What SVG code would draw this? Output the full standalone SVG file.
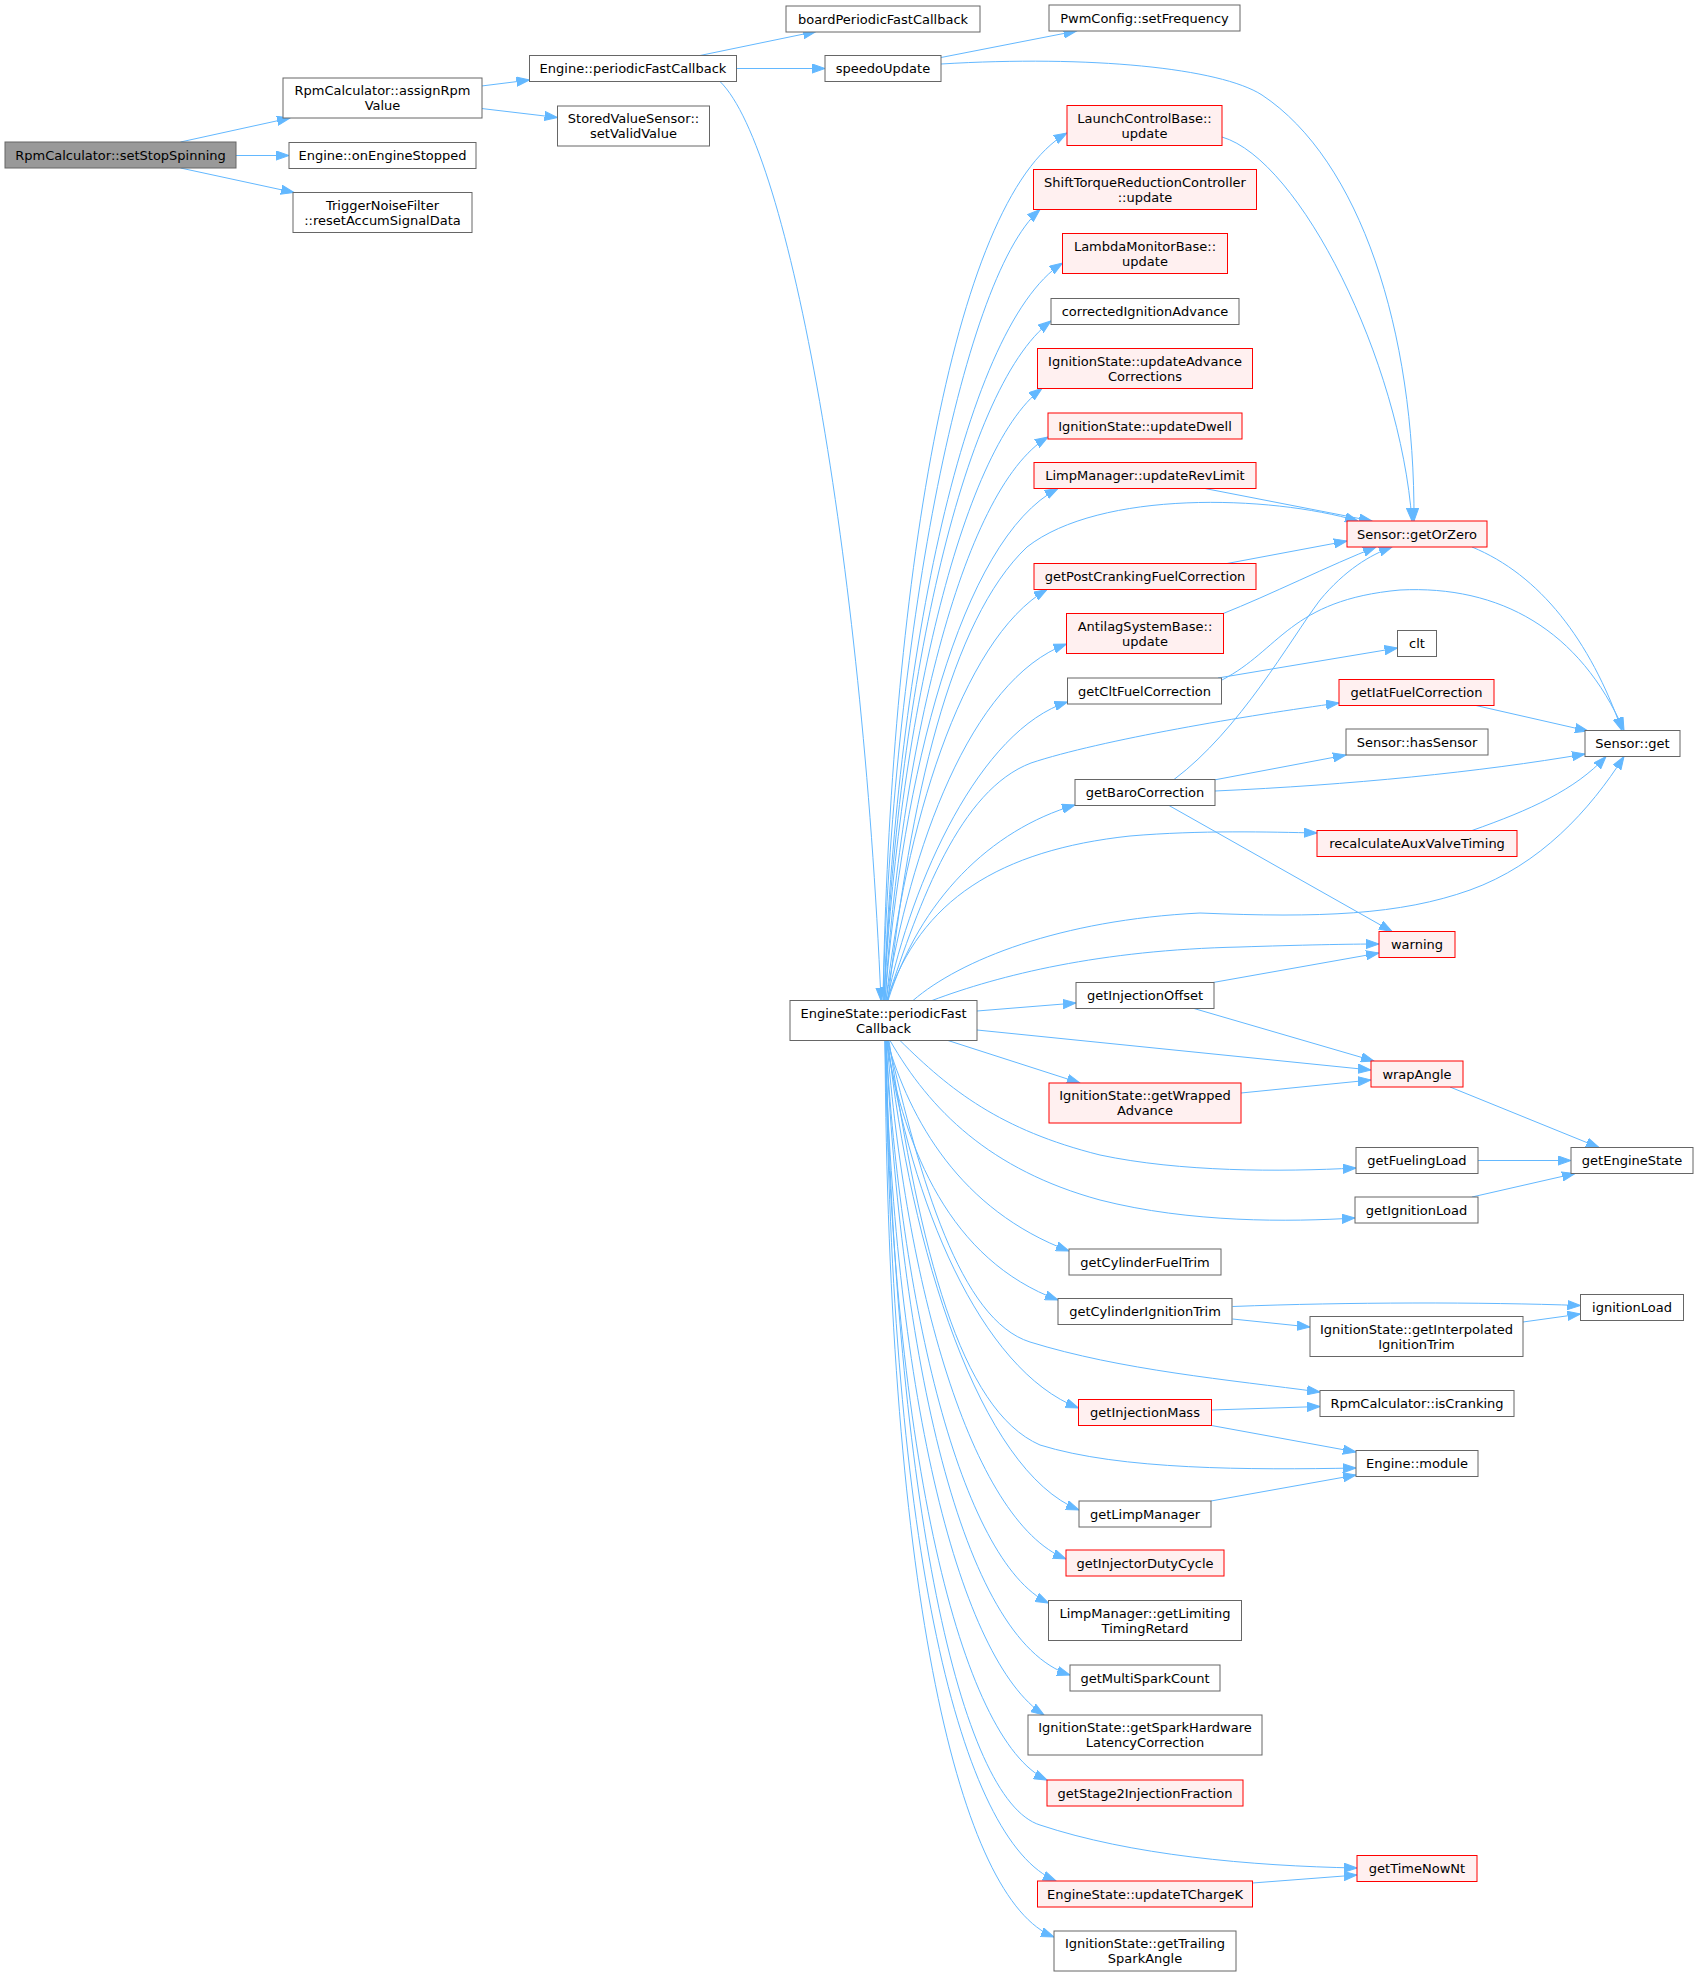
<svg xmlns="http://www.w3.org/2000/svg" width="1699" height="1977" viewBox="0 0 1699 1977">
<style>
.n rect{fill:#ffffff;stroke:#666666;stroke-width:1}
.r rect{fill:#fff0f0;stroke:#ff0000;stroke-width:1}
.root rect{fill:#999999;stroke:#666666;stroke-width:1}
text{font-family:"DejaVu Sans","Liberation Sans",sans-serif;font-size:13px;fill:#000000;text-anchor:middle}
#edges path{fill:none;stroke:#63b8ff;stroke-width:1;marker-end:url(#a)}
</style>
<defs>
<marker id="a" markerUnits="userSpaceOnUse" markerWidth="14" markerHeight="10" viewBox="0 0 14 10" refX="13" refY="5" orient="auto">
<path d="M0,0.4 L13,5 L0,9.6 z" fill="#63b8ff" stroke="#63b8ff" stroke-width="1"/>
</marker>
</defs>
<rect x="0" y="0" width="1699" height="1977" fill="#ffffff"/>
<g id="edges">
<path d="M180.5,142 L290,118"/>
<path d="M236,155.5 L289,155.5"/>
<path d="M180.5,168 L294,192.5"/>
<path d="M481.5,86 L529.5,80"/>
<path d="M481.5,108.5 L557.5,117.5"/>
<path d="M700,55.5 L816,31.5"/>
<path d="M737,68.5 L825,68.5"/>
<path d="M720,81.5 C790,150 862,560 881,1000.5"/>
<path d="M941,57.5 L1076.5,31"/>
<path d="M941,64 C1090,55 1220,68 1262,95 C1360,160 1415,330 1414,521"/>
<path d="M1222,137 C1300,160 1400,360 1412,521"/>
<path d="M883,1000.5 C890,600 950,200 1067,133"/>
<path d="M883,1000.5 C892,650 960,280 1040,209.5"/>
<path d="M884,1000.5 C895,680 960,330 1062.5,263"/>
<path d="M884,1000.5 C897,700 960,390 1051,321"/>
<path d="M884,1000.5 C898,730 960,450 1042,388.5"/>
<path d="M885,1000.5 C900,760 960,490 1048,437"/>
<path d="M885,1000.5 C902,780 960,540 1058,488.5"/>
<path d="M888,1000.5 C910,800 950,620 1027,547 C1100,490 1270,495 1358,521"/>
<path d="M1205,488.5 L1372,521"/>
<path d="M886,1000.5 C905,830 960,640 1047,589.5"/>
<path d="M1227,563.5 L1347,541"/>
<path d="M886,1000.5 C910,850 970,680 1066.5,644"/>
<path d="M1222,614 C1270,595 1330,565 1376,547"/>
<path d="M887,1000.5 C912,880 980,730 1067.5,702"/>
<path d="M1218,678 L1397.5,648"/>
<path d="M1222,680 C1280,650 1290,600 1400,590 C1500,585 1580,630 1624,730.5"/>
<path d="M1472,547 C1540,575 1590,640 1622,730.5"/>
<path d="M887,1000.5 C920,900 960,790 1031,763 C1100,740 1250,715 1339,703"/>
<path d="M1476,705.5 L1588,731"/>
<path d="M888,1000.5 C920,900 990,830 1075,805"/>
<path d="M1174,779.5 C1240,730 1290,640 1320,600 C1345,570 1370,555 1392,547"/>
<path d="M1214,780 L1346,755"/>
<path d="M1215,791 C1350,785 1480,772 1585,754"/>
<path d="M1169,805.5 L1392,931.5"/>
<path d="M887,1000.5 C920,900 1000,850 1130,836 C1200,830 1270,832 1317,833"/>
<path d="M1472,830.5 C1530,810 1575,790 1606,756.5"/>
<path d="M913,1000.5 C960,960 1060,920 1200,913 C1320,918 1400,915 1470,890 C1540,865 1590,810 1624,756.5"/>
<path d="M932,1000.5 C1000,975 1100,950 1240,947 C1300,945 1350,944 1379,944"/>
<path d="M1213,982.5 L1379,953"/>
<path d="M1194,1008.5 L1374,1061"/>
<path d="M977,1011 L1076,1003"/>
<path d="M977,1030 L1371,1070"/>
<path d="M948,1040.5 L1080,1083"/>
<path d="M1241,1093 L1371,1080"/>
<path d="M1450,1087 L1599,1147.5"/>
<path d="M900,1040.5 C950,1090 1000,1130 1100,1155 C1180,1172 1280,1172 1356,1168"/>
<path d="M1478,1160.5 L1571,1160.5"/>
<path d="M890,1040.5 C930,1110 990,1170 1100,1200 C1190,1223 1290,1222 1355,1218"/>
<path d="M1472,1197 L1575,1173.5"/>
<path d="M887,1040.5 C910,1120 960,1210 1069,1251"/>
<path d="M886,1040.5 C905,1150 950,1260 1058,1300"/>
<path d="M1232.5,1306.5 C1350,1302 1480,1302 1580.5,1305.5"/>
<path d="M1232.5,1319 L1310,1327"/>
<path d="M1523,1322 L1580.5,1314"/>
<path d="M888,1040.5 C920,1180 960,1320 1030,1342 C1120,1370 1230,1380 1320,1392"/>
<path d="M887,1040.5 C910,1200 980,1370 1078.5,1408"/>
<path d="M1211.5,1410 L1320,1406.5"/>
<path d="M1211.5,1425.5 L1356,1452"/>
<path d="M889,1040.5 C920,1250 960,1410 1040,1445 C1120,1470 1250,1470 1356,1468"/>
<path d="M1211,1501 L1356,1475"/>
<path d="M888,1040.5 C910,1250 980,1470 1079,1510"/>
<path d="M887,1040.5 C905,1280 970,1520 1066,1559"/>
<path d="M886,1040.5 C900,1300 960,1560 1048.5,1603"/>
<path d="M886,1040.5 C900,1350 960,1640 1070,1675"/>
<path d="M885,1040.5 C895,1400 960,1660 1044,1715"/>
<path d="M885,1040.5 C892,1450 960,1740 1047,1780"/>
<path d="M886,1040.5 C895,1500 960,1800 1040,1825 C1130,1855 1250,1866 1357,1868"/>
<path d="M886,1040.5 C890,1550 960,1840 1056,1881"/>
<path d="M1252.5,1883 L1357,1875"/>
<path d="M885,1040.5 C888,1600 960,1900 1054,1937"/>
</g>
<g id="setStopSpinning" class="root"><rect x="5" y="142" width="231" height="26"/><text x="120.5" y="159.5">RpmCalculator::setStopSpinning</text></g>
<g id="assignRpmValue" class="n"><rect x="283" y="78" width="199" height="40"/><text x="382.5" y="95">RpmCalculator::assignRpm</text><text x="382.5" y="110">Value</text></g>
<g id="onEngineStopped" class="n"><rect x="289" y="142.5" width="187" height="26"/><text x="382.5" y="160">Engine::onEngineStopped</text></g>
<g id="resetAccumSignalData" class="n"><rect x="293" y="192.5" width="179" height="40"/><text x="382.5" y="209.5">TriggerNoiseFilter</text><text x="382.5" y="224.5">::resetAccumSignalData</text></g>
<g id="enginePeriodicFastCallback" class="n"><rect x="529.5" y="55.5" width="207" height="26"/><text x="633" y="73">Engine::periodicFastCallback</text></g>
<g id="setValidValue" class="n"><rect x="557.5" y="106" width="152" height="40"/><text x="633.5" y="123">StoredValueSensor::</text><text x="633.5" y="138">setValidValue</text></g>
<g id="boardPeriodicFastCallback" class="n"><rect x="786" y="6" width="194" height="26"/><text x="883" y="23.5">boardPeriodicFastCallback</text></g>
<g id="speedoUpdate" class="n"><rect x="825" y="55.5" width="116" height="26"/><text x="883" y="73">speedoUpdate</text></g>
<g id="engineStatePeriodicFastCallback" class="n"><rect x="790" y="1000.5" width="187" height="40"/><text x="883.5" y="1017.5">EngineState::periodicFast</text><text x="883.5" y="1032.5">Callback</text></g>
<g id="setFrequency" class="n"><rect x="1049" y="5" width="191" height="26"/><text x="1144.5" y="22.5">PwmConfig::setFrequency</text></g>
<g id="launchControlUpdate" class="r"><rect x="1067" y="105.5" width="155" height="40"/><text x="1144.5" y="122.5">LaunchControlBase::</text><text x="1144.5" y="137.5">update</text></g>
<g id="shiftTorqueUpdate" class="r"><rect x="1033.5" y="169.5" width="223" height="40"/><text x="1145" y="186.5">ShiftTorqueReductionController</text><text x="1145" y="201.5">::update</text></g>
<g id="lambdaMonitorUpdate" class="r"><rect x="1062.5" y="233.5" width="165" height="40"/><text x="1145" y="250.5">LambdaMonitorBase::</text><text x="1145" y="265.5">update</text></g>
<g id="correctedIgnitionAdvance" class="n"><rect x="1051" y="298.5" width="188" height="26"/><text x="1145" y="316">correctedIgnitionAdvance</text></g>
<g id="updateAdvanceCorrections" class="r"><rect x="1037.5" y="348.5" width="215" height="40"/><text x="1145" y="365.5">IgnitionState::updateAdvance</text><text x="1145" y="380.5">Corrections</text></g>
<g id="updateDwell" class="r"><rect x="1048" y="413" width="194" height="26"/><text x="1145" y="430.5">IgnitionState::updateDwell</text></g>
<g id="updateRevLimit" class="r"><rect x="1034" y="462.5" width="222" height="26"/><text x="1145" y="480">LimpManager::updateRevLimit</text></g>
<g id="getPostCrankingFuelCorrection" class="r"><rect x="1034" y="563.5" width="222" height="26"/><text x="1145" y="581">getPostCrankingFuelCorrection</text></g>
<g id="antilagUpdate" class="r"><rect x="1066.5" y="613.5" width="157" height="40"/><text x="1145" y="630.5">AntilagSystemBase::</text><text x="1145" y="645.5">update</text></g>
<g id="getCltFuelCorrection" class="n"><rect x="1067.5" y="678" width="154" height="26"/><text x="1144.5" y="695.5">getCltFuelCorrection</text></g>
<g id="getBaroCorrection" class="n"><rect x="1075" y="779.5" width="140" height="26"/><text x="1145" y="797">getBaroCorrection</text></g>
<g id="getInjectionOffset" class="n"><rect x="1076" y="982.5" width="138" height="26"/><text x="1145" y="1000">getInjectionOffset</text></g>
<g id="getWrappedAdvance" class="r"><rect x="1049" y="1083" width="192" height="40"/><text x="1145" y="1100">IgnitionState::getWrapped</text><text x="1145" y="1115">Advance</text></g>
<g id="getCylinderFuelTrim" class="n"><rect x="1069" y="1249" width="152" height="26"/><text x="1145" y="1266.5">getCylinderFuelTrim</text></g>
<g id="getCylinderIgnitionTrim" class="n"><rect x="1058" y="1298.5" width="174" height="26"/><text x="1145" y="1316">getCylinderIgnitionTrim</text></g>
<g id="getInjectionMass" class="r"><rect x="1078.5" y="1399.5" width="133" height="26"/><text x="1145" y="1417">getInjectionMass</text></g>
<g id="getLimpManager" class="n"><rect x="1079" y="1501" width="132" height="26"/><text x="1145" y="1518.5">getLimpManager</text></g>
<g id="getInjectorDutyCycle" class="r"><rect x="1066" y="1550" width="158" height="26"/><text x="1145" y="1567.5">getInjectorDutyCycle</text></g>
<g id="getLimitingTimingRetard" class="n"><rect x="1048.5" y="1600.5" width="193" height="40"/><text x="1145" y="1617.5">LimpManager::getLimiting</text><text x="1145" y="1632.5">TimingRetard</text></g>
<g id="getMultiSparkCount" class="n"><rect x="1070" y="1665" width="150" height="26"/><text x="1145" y="1682.5">getMultiSparkCount</text></g>
<g id="getSparkHardwareLatencyCorrection" class="n"><rect x="1028" y="1715" width="234" height="40"/><text x="1145" y="1732">IgnitionState::getSparkHardware</text><text x="1145" y="1747">LatencyCorrection</text></g>
<g id="getStage2InjectionFraction" class="r"><rect x="1047" y="1780" width="196" height="26"/><text x="1145" y="1797.5">getStage2InjectionFraction</text></g>
<g id="updateTChargeK" class="r"><rect x="1037.5" y="1881" width="215" height="26"/><text x="1145" y="1898.5">EngineState::updateTChargeK</text></g>
<g id="getTrailingSparkAngle" class="n"><rect x="1054" y="1931" width="182" height="40"/><text x="1145" y="1948">IgnitionState::getTrailing</text><text x="1145" y="1963">SparkAngle</text></g>
<g id="getOrZero" class="r"><rect x="1347" y="521" width="140" height="26"/><text x="1417" y="538.5">Sensor::getOrZero</text></g>
<g id="clt" class="n"><rect x="1397.5" y="630.5" width="39" height="26"/><text x="1417" y="648">clt</text></g>
<g id="getIatFuelCorrection" class="r"><rect x="1339" y="679.5" width="155" height="26"/><text x="1416.5" y="697">getIatFuelCorrection</text></g>
<g id="hasSensor" class="n"><rect x="1346" y="729" width="142" height="26"/><text x="1417" y="746.5">Sensor::hasSensor</text></g>
<g id="recalculateAuxValveTiming" class="r"><rect x="1317" y="830.5" width="200" height="26"/><text x="1417" y="848">recalculateAuxValveTiming</text></g>
<g id="warning" class="r"><rect x="1379" y="931.5" width="76" height="26"/><text x="1417" y="949">warning</text></g>
<g id="wrapAngle" class="r"><rect x="1371" y="1061" width="92" height="26"/><text x="1417" y="1078.5">wrapAngle</text></g>
<g id="getFuelingLoad" class="n"><rect x="1356" y="1147.5" width="122" height="26"/><text x="1417" y="1165">getFuelingLoad</text></g>
<g id="getIgnitionLoad" class="n"><rect x="1355" y="1197" width="123" height="26"/><text x="1416.5" y="1214.5">getIgnitionLoad</text></g>
<g id="getInterpolatedIgnitionTrim" class="n"><rect x="1310" y="1316.5" width="213" height="40"/><text x="1416.5" y="1333.5">IgnitionState::getInterpolated</text><text x="1416.5" y="1348.5">IgnitionTrim</text></g>
<g id="isCranking" class="n"><rect x="1320" y="1390.5" width="194" height="26"/><text x="1417" y="1408">RpmCalculator::isCranking</text></g>
<g id="engineModule" class="n"><rect x="1356" y="1450.5" width="122" height="26"/><text x="1417" y="1468">Engine::module</text></g>
<g id="getTimeNowNt" class="r"><rect x="1357" y="1855.5" width="120" height="26"/><text x="1417" y="1873">getTimeNowNt</text></g>
<g id="sensorGet" class="n"><rect x="1585" y="730.5" width="95" height="26"/><text x="1632.5" y="748">Sensor::get</text></g>
<g id="getEngineState" class="n"><rect x="1571" y="1147.5" width="122" height="26"/><text x="1632" y="1165">getEngineState</text></g>
<g id="ignitionLoad" class="n"><rect x="1580.5" y="1294.5" width="103" height="26"/><text x="1632" y="1312">ignitionLoad</text></g>
</svg>
